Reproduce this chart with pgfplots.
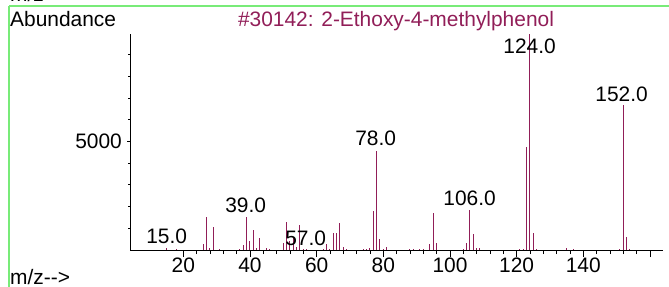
\documentclass[border=0pt]{standalone}
\usepackage{fontspec}
\setmainfont{Liberation Sans}
\usepackage{pgfplots}
\pgfplotsset{compat=1.18}
\definecolor{peak}{RGB}{145,30,88}
\definecolor{framegreen}{RGB}{120,235,120}
\newcommand\bigf{\fontsize{21}{25}\selectfont}
\begin{document}
\begin{tikzpicture}
\useasboundingbox (-130bp,-37bp) rectangle (539bp,250bp);
\begin{axis}[
  scale only axis, width=533.3bp, height=216bp,
  xmin=4, xmax=164, ymin=0, ymax=9950,
  axis x line=bottom, axis y line=left,
  axis line style={-, black, line width=0.8bp},
  every outer x axis line/.append style={-},
  every outer y axis line/.append style={-},
  xtick={20,40,...,160}, xticklabels={20,40,60,80,100,120,140,{}},
  minor x tick num=4,
  ytick={5000}, minor ytick={1000,2000,3000,4000,6000,7000,8000,9000},
  tick align=outside, major tick length=7bp, minor tick length=4bp,
  tick style={black, line width=0.8bp},
  ytick style={/pgfplots/major tick length=3bp, /pgfplots/minor tick length=2bp},
  /pgf/number format/assume math mode=true,
  /pgf/number format/set thousands separator={},
  xticklabel style={font=\bigf, inner sep=1bp},
  yticklabel style={font=\bigf, inner sep=1bp},
  scaled y ticks=false,
  clip=false,
]
\addplot[ycomb, peak, line width=1bp, mark=none] coordinates {
(15,80) (18,40) (26,280) (27,1500) (28,80) (29,1045) (31,50) (37,50)
(38,230) (39,1540) (40,430) (41,920) (42,80) (43,550) (45,100) (46,40)
(50,340) (51,1270) (52,400) (53,600) (54,150) (55,1150) (56,60) (57,60)
(62,60) (63,280) (64,60) (65,770) (66,770) (67,1230) (68,120) (69,50)
(74,40) (75,50) (76,90) (77,1780) (78,4560) (79,510) (80,60) (81,150)
(88,40) (89,40) (91,40) (92,40) (94,280) (95,1690) (96,300)
(104,40) (105,300) (106,1840) (107,740) (108,80) (109,90)
(121,50) (122,40) (123,4760) (124,9950) (125,770) (126,60)
(135,80) (137,40) (151,50) (152,6680) (153,610) (154,40)
};
\node[anchor=base, font=\bigf, inner sep=0] at (axis cs:15,322) {15.0};
\node[anchor=base, font=\bigf, inner sep=0] at (axis cs:38.7,1750) {39.0};
\node[anchor=base, font=\bigf, inner sep=0] at (axis cs:56.7,230) {57.0};
\node[anchor=base, font=\bigf, inner sep=0] at (axis cs:77.7,4836) {78.0};
\node[anchor=base, font=\bigf, inner sep=0] at (axis cs:105.9,2027) {106.0};
\node[anchor=base, font=\bigf, inner sep=0] at (axis cs:123.9,9074) {124.0};
\node[anchor=base, font=\bigf, inner sep=0] at (axis cs:151.5,6863) {152.0};
\end{axis}
\node[anchor=base west, font=\bigf, inner sep=0] at (-120bp,223bp) {Abundance};
\node[anchor=base, font=\bigf, inner sep=0, text=peak] at (266bp,223bp) {\#30142: 2-Ethoxy-4-methylphenol};
\node[anchor=base west, font=\bigf, inner sep=0] at (-120bp,-34bp) {m/z-{}->};
\node[anchor=base west, font=\bigf, inner sep=0] at (-120bp,248bp) {m/z-{}->};
\draw[framegreen, line width=2bp] (-120.5bp,243.5bp) -- (539bp,243.5bp);
\draw[framegreen, line width=2bp] (-120.5bp,243.5bp) -- (-120.5bp,-37bp);
\end{tikzpicture}
\end{document}
